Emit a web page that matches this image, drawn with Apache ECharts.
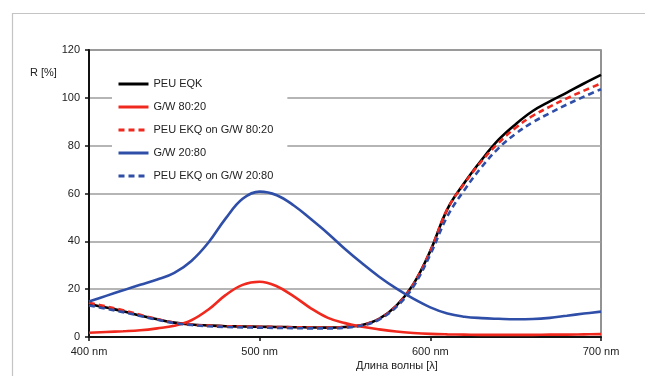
<!DOCTYPE html>
<html>
<head>
<meta charset="utf-8">
<script src="https://cdn.jsdelivr.net/npm/echarts@6/dist/echarts.min.js"></script>
<style>
html,body{margin:0;padding:0;background:#fff;}
#c{width:645px;height:376px;}
</style>
</head>
<body>
<div id="c"></div>
<script>
var wavelengths = [400,410,420,430,440,450,460,470,480,490,500,510,520,530,540,550,560,570,580,590,600,610,620,630,640,650,660,670,680,690,700];
var peuEQK = [13.8,12.3,10.8,9.0,7.4,6.0,5.2,4.8,4.5,4.4,4.3,4.2,4.1,4.0,3.9,4.2,5.0,7.6,13,22,36,53.5,64.5,74,82.5,89,94.5,98.5,102.2,106,109.6];
var gw8020 = [1.8,2.1,2.4,2.8,3.6,4.7,7.0,11.5,17.5,21.8,23.1,21.2,17,12,8.0,5.8,4.3,3.2,2.3,1.7,1.3,1.1,1.0,0.9,0.9,0.9,0.9,1.0,1.0,1.1,1.2];
var peuOn8020 = [14.3,12.8,11.2,9.3,7.5,6.0,5.2,4.8,4.5,4.4,4.3,4.2,4.1,4.0,3.9,4.2,5.0,7.6,13,22,36,53.5,64.2,73.5,81.2,87.5,92.5,96.3,99.8,103,106];
var gw2080 = [14.8,17.2,19.5,21.8,24.0,26.8,31.8,39.5,49.5,57.8,60.8,59.3,55,49.3,43.3,36.8,30.8,25.2,20.3,16.0,12.4,9.8,8.5,7.9,7.6,7.4,7.5,8.0,8.9,9.8,10.6];
var peuOn2080 = [13.2,11.8,10.4,8.8,7.2,5.8,5.0,4.5,4.2,4.0,3.9,3.8,3.7,3.6,3.6,3.9,4.8,7.3,12.5,21,34.5,50.5,61.5,71,79,85,89.8,93.6,97.2,100.5,103.6];
var seriesNames = ['PEU EQK','G/W 80:20','PEU EKQ on G/W 80:20','G/W 20:80','PEU EKQ on G/W 20:80'];
var yTicks = [0,20,40,60,80,100,120];
var xTickLabels = ['400 nm','500 nm','600 nm','700 nm'];

function pairs(arr){ return wavelengths.map(function(w,i){return [w,arr[i]];}); }

var chart = echarts.init(document.getElementById('c'));
var font = 'Liberation Sans, Arial, sans-serif';
function mk(name, data, color, dashed){
  return {
    name: name, type: 'line', data: pairs(data), symbol: 'none', smooth: 0.4,
    lineStyle: {color: color, width: 2.6, type: dashed ? [6,4] : 'solid'},
    itemStyle: {color: color}
  };
}
chart.setOption({
  animation: false,
  backgroundColor: '#fff',
  grid: {left: 89, right: 44, top: 50, bottom: 39, show: true, borderColor: '#707070', borderWidth: 1.5},
  legend: {
    orient: 'vertical', left: 112, top: 75, itemWidth: 30, itemHeight: 14, itemGap: 9,
    backgroundColor: '#fff', padding: [2, 14, 6, 5],
    itemStyle: {color: 'rgba(0,0,0,0)', borderColor: 'rgba(0,0,0,0)', borderWidth: 0},
    lineStyle: {width: 3},
    textStyle: {fontFamily: font, fontSize: 11, color: '#222', lineHeight: 14},
    data: seriesNames
  },
  xAxis: {
    type: 'value', min: 400, max: 700, interval: 100,
    axisLine: {lineStyle: {color: '#111', width: 2}},
    axisTick: {show: true, length: 4, lineStyle: {color: '#111', width: 1.5}},
    splitLine: {show: false},
    axisLabel: {margin: 9, fontFamily: font, fontSize: 11, color: '#222',
      formatter: function(v){ return xTickLabels[Math.round((v-400)/100)] || ''; }}
  },
  yAxis: {
    type: 'value', min: yTicks[0], max: yTicks[yTicks.length-1], interval: 20,
    axisLine: {show: true, lineStyle: {color: '#111', width: 2}},
    axisTick: {show: true, length: 4, lineStyle: {color: '#111', width: 1.5}},
    splitLine: {show: true, lineStyle: {color: '#9c9c9c', width: 1.5}},
    axisLabel: {margin: 9, fontFamily: font, fontSize: 11, color: '#222'}
  },
  graphic: [
    {type: 'rect', left: 10, top: 11, shape: {width: 660, height: 400}, style: {fill: 'none', stroke: '#c4c4c4', lineWidth: 1.2}, z: -1},
    {type: 'text', left: 30, top: 67, style: {text: 'R [%]', font: '11px ' + font, fill: '#222'}},
    {type: 'text', left: 356, top: 360, style: {text: 'Длина волны [λ]', font: '11px ' + font, fill: '#222'}}
  ],
  series: [
    mk(seriesNames[0], peuEQK, '#000000', false),
    mk(seriesNames[1], gw8020, '#f0291e', false),
    mk(seriesNames[2], peuOn8020, '#f0291e', true),
    mk(seriesNames[3], gw2080, '#2f4ea8', false),
    mk(seriesNames[4], peuOn2080, '#2f4ea8', true)
  ]
});
</script>
</body>
</html>
